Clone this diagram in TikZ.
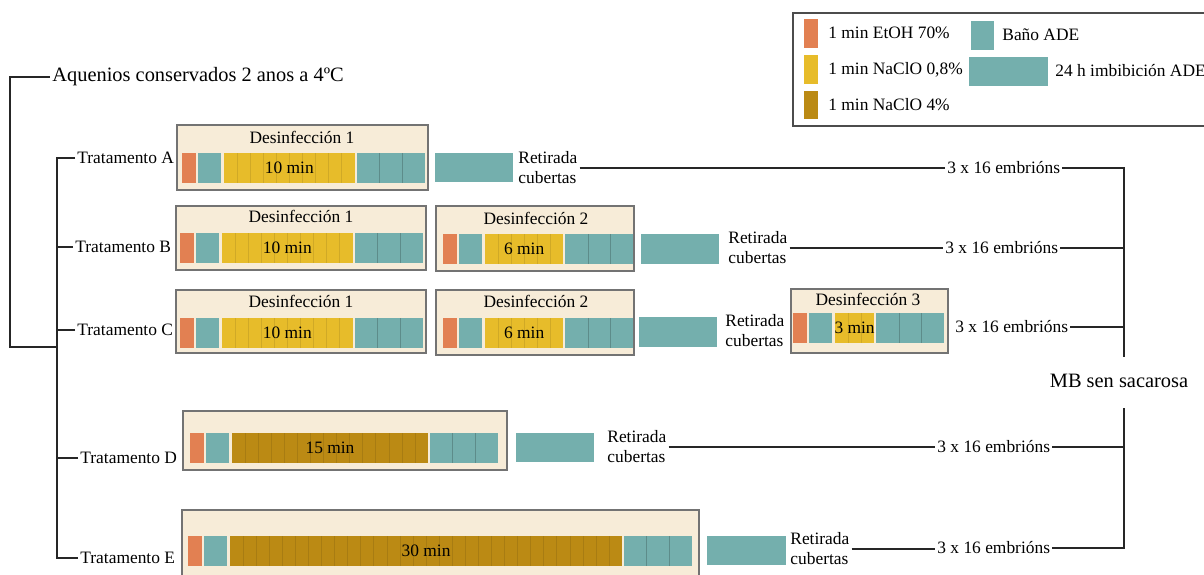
\documentclass[tikz,border=0pt]{standalone}
\usepackage{fontspec}
\setmainfont{Liberation Serif}
\usetikzlibrary{positioning}

\definecolor{laranxa}{RGB}{226,128,82}
\definecolor{auga}{RGB}{116,175,173}
\definecolor{amarelo}{RGB}{231,188,42}
\definecolor{ouro}{RGB}{187,138,20}
\definecolor{crema}{RGB}{247,236,216}

% banda de baños: x0, y0, n celas, cor, etiqueta, nome
\newcommand{\banda}[6]{%
  \fill[laranxa] (#1,#2) rectangle ++(14,30);
  \fill[auga] ({#1+16},#2) rectangle ++(23,30);
  \fill[#4] ({#1+42},#2) rectangle ++({#3*13.07},30);
  \pgfmathtruncatemacro{\nmenos}{#3-1}
  \foreach \i in {1,...,\nmenos}
    \draw[#4!90!black,line width=0.3pt] ({#1+42+\i*13.07},#2) -- ++(0,30);
  \node[txt] (#6) at ({#1+42+#3*6.535},{#2+15}) {#5};
  \fill[auga] ({#1+44+#3*13.07},#2) rectangle ++(68,30);
  \foreach \i in {1,2}
    \draw[auga!80!black,line width=0.3pt] ({#1+44+#3*13.07+\i*22.67},#2) -- ++(0,30);
}

\begin{document}
\begin{tikzpicture}[x=0.5pt,y=-0.5pt,
  txt/.style={font=\fontsize{8.7}{10}\selectfont,inner sep=1pt},
  grande/.style={font=\fontsize{10.2}{12}\selectfont,inner sep=1pt},
  caixa/.style={draw=black!55,fill=crema,line width=0.7pt},
  linha/.style={draw=black!85,line width=0.65pt}]
\useasboundingbox (0,0) rectangle (1204,574);
\clip (0,0) rectangle (1204,574);

% lenda
\draw[black!70,line width=0.7pt] (1204,13) -- (793,13) -- (793,126) -- (1204,126);
\fill[laranxa] (804,19) rectangle (818,48);
\fill[amarelo] (804,55) rectangle (818,84);
\fill[ouro] (804,91) rectangle (818,119);
\fill[auga] (971,21) rectangle (994,50);
\fill[auga] (969,57) rectangle (1048,86);
\node[txt,anchor=west] (lEtOH) at (826,33) {1 min EtOH 70\%};
\node[txt,anchor=west] (lNaClOa) at (826,70) {1 min NaClO 0,8\%};
\node[txt,anchor=west] (lNaClOb) at (826,105) {1 min NaClO 4\%};
\node[txt,anchor=west] (lBano) at (1000,35) {Baño ADE};
\node[txt,anchor=west] (lImb) at (1053,71) {24 h imbibición ADE};

% arbore
\node[grande,anchor=west] (aquenios) at (50,77) {Aquenios conservados 2 anos a 4ºC};
\node[txt,anchor=west] (tA) at (75,158) {Tratamento A};
\node[txt,anchor=west] (tB) at (73,247) {Tratamento B};
\node[txt,anchor=west] (tC) at (75,330) {Tratamento C};
\node[txt,anchor=west] (tD) at (78,458) {Tratamento D};
\node[txt,anchor=west] (tE) at (78,558) {Tratamento E};
\coordinate (raiz) at (10,347);
\coordinate (xunta) at (57,347);
\draw[linha] (aquenios.west) -| (raiz) -- (xunta);
\draw[linha] (tA.west) -| (xunta) |- (tE.west);
\draw[linha] (tB.west) -- (tB.west -| xunta);
\draw[linha] (tC.west) -- (tC.west -| xunta);
\draw[linha] (tD.west) -- (tD.west -| xunta);

% tratamento A
\draw[caixa] (177,125) rectangle (428,190);
\node[txt] (dA1) at (302,137) {Desinfección 1};
\banda{182}{153}{10}{amarelo}{10 min}{mA1}
\fill[auga] (435,153) rectangle (513,182);
\node[txt,anchor=west,align=left] (rA) at (516,168) {Retirada\\cubertas};
\node[txt,anchor=west] (eA) at (945,168) {3 x 16 embrións};

% tratamento B
\draw[caixa] (176,206) rectangle (426,270);
\node[txt] (dB1) at (301,216) {Desinfección 1};
\banda{180}{233}{10}{amarelo}{10 min}{mB1}
\draw[caixa] (436,206) rectangle (634,271);
\node[txt] (dB2) at (536,218) {Desinfección 2};
\banda{443}{234}{6}{amarelo}{6 min}{mB2}
\fill[auga] (641,234) rectangle (719,264);
\node[txt,anchor=west,align=left] (rB) at (726,248) {Retirada\\cubertas};
\node[txt,anchor=west] (eB) at (943,248) {3 x 16 embrións};

% tratamento C
\draw[caixa] (176,290) rectangle (426,353);
\node[txt] (dC1) at (301,301) {Desinfección 1};
\banda{180}{318}{10}{amarelo}{10 min}{mC1}
\draw[caixa] (436,290) rectangle (634,355);
\node[txt] (dC2) at (536,301) {Desinfección 2};
\banda{443}{318}{6}{amarelo}{6 min}{mC2}
\fill[auga] (639,317) rectangle (717,347);
\node[txt,anchor=west,align=left] (rC) at (723,331) {Retirada\\cubertas};
\draw[caixa] (791,289) rectangle (948,353);
\node[txt] (dC3) at (868,299) {Desinfección 3};
\banda{793}{313}{3}{amarelo}{3 min}{mC3}
\node[txt,anchor=west] (eC) at (953,327) {3 x 16 embrións};

% tratamento D
\draw[caixa] (183,411) rectangle (507,470);
\banda{190}{433}{15}{ouro}{15 min}{mD}
\fill[auga] (516,433) rectangle (594,462);
\node[txt,anchor=west,align=left] (rD) at (605,447) {Retirada\\cubertas};
\node[txt,anchor=west] (eD) at (935,447) {3 x 16 embrións};

% tratamento E
\draw[caixa] (182,510) rectangle (699,590);
\banda{188}{536}{30}{ouro}{30 min}{mE}
\fill[auga] (707,536) rectangle (786,565);
\node[txt,anchor=west,align=left] (rE) at (788,549) {Retirada\\cubertas};
\node[txt,anchor=west] (eE) at (935,548) {3 x 16 embrións};

% MB
\node[grande] (mb) at (1119,381) {MB sen sacarosa};
\coordinate (mbN) at (1124,357);
\coordinate (mbS) at (1124,408);
\draw[linha] (rA.east) -- (rA.east -| eA.west);
\draw[linha] (rB.east) -- (rB.east -| eB.west);
\draw[linha] (rD.east) -- (rD.east -| eD.west);
\draw[linha] (rE.east) -- (rE.east -| eE.west);
\draw[linha] (eA.east) -| (mbN);
\draw[linha] (eB.east) -- (eB.east -| mbN);
\draw[linha] (eC.east) -- (eC.east -| mbN);
\draw[linha] (eD.east) -- (eD.east -| mbS);
\draw[linha] (eE.east) -| (mbS);
\end{tikzpicture}
\end{document}
